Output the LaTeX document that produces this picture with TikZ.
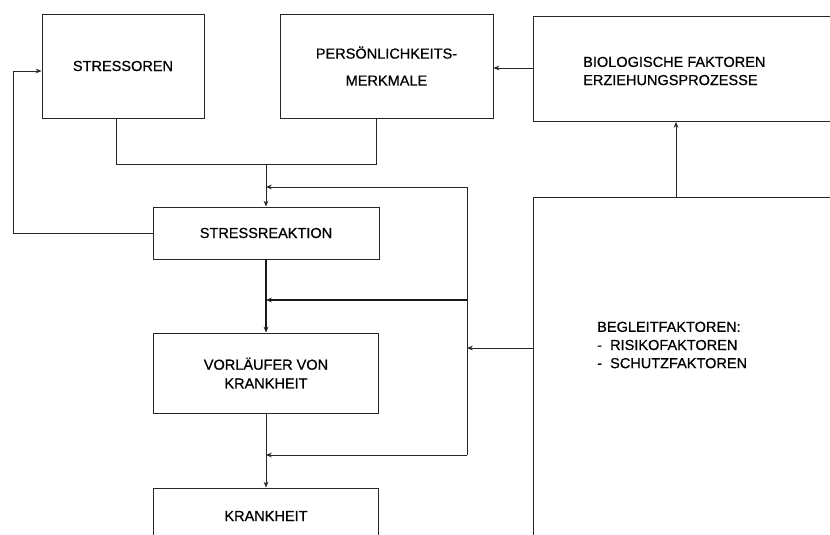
\documentclass[tikz,border=0pt]{standalone}
\usepackage{fontspec}
\setmainfont[FakeBold=0.7]{Liberation Sans}
\usetikzlibrary{arrows.meta, positioning}

\begin{document}
\begin{tikzpicture}[
  x=0.03cm, y=-0.03cm,
  >={Stealth[length=5pt, width=4pt]},
  box/.style={draw=black!85, line width=0.8pt, inner sep=0pt, align=center,
    font=\fontsize{12.4}{16}\selectfont},
  txt/.style={inner sep=0pt, align=left, font=\fontsize{12.4}{15.5}\selectfont},
  wire/.style={draw=black!85, line width=0.7pt},
  heavy/.style={draw=black!90, line width=1.6pt}
]
\useasboundingbox (0,0) rectangle (830,535);
\clip (0,0) rectangle (830,535);

% Boxes, left column
\node[box, minimum width=4.86cm, minimum height=3.12cm] (stressoren) at (123,66) {STRESSOREN};
\node[box, minimum width=6.39cm, minimum height=3.12cm] (pers) at (386.5,66) {PERSÖNLICHKEITS-\\[7pt]MERKMALE};
\node[box, minimum width=6.78cm, minimum height=1.56cm] (reaktion) at (266,233) {STRESSREAKTION};
\node[box, minimum width=6.75cm, minimum height=2.4cm] (vorl) at (266,373) {VORLÄUFER VON\\KRANKHEIT};
\node[box, minimum width=6.75cm, minimum height=1.68cm] (krank) at (266,516) {KRANKHEIT};

% Boxes, right column (cut by the page edge)
\node[box, anchor=north west, minimum width=10.5cm, minimum height=3.15cm] (bio) at (533,16) {};
\node[txt, anchor=west] (bio-text) at (583,71) {BIOLOGISCHE FAKTOREN\\ERZIEHUNGSPROZESSE};
\node[box, anchor=north west, minimum width=10.5cm, minimum height=12cm] (begleit) at (533,197) {};
\node[txt, anchor=west] (begleit-text) at (597,345) {BEGLEITFAKTOREN:\\- \ RISIKOFAKTOREN\\- \ SCHUTZFAKTOREN};

% Junction points
\coordinate (merge) at (266,164);
\coordinate (loop) at (13,0);
\coordinate (up) at (676,0);
\coordinate (bustop) at (467,187);
\coordinate (busin) at (467,348);
\coordinate (busmid) at (467,300);
\coordinate (busbot) at (467,455);

% Inputs to the stress reaction
\draw[wire] ([xshift=-0.21cm]stressoren.south) |- (merge);
\draw[wire] ([xshift=-0.3cm]pers.south) |- (merge);
\draw[wire, ->] (merge) -- (reaktion.north);

% Feedback loop
\draw[wire, ->] (reaktion.west) -- (reaktion.west -| loop) |- ([yshift=-0.15cm]stressoren.west);

% Right column links
\draw[wire, ->] (bio.west |- 0,68) -- (pers.east |- 0,68);
\draw[wire, ->] (begleit.north -| up) -- (bio.south -| up);
\draw[wire, ->] (begleit.west |- busin) -- (busin);

% Bus from the accompanying factors
\draw[wire, ->] (busbot) -- (bustop) -- (bustop -| merge);
\draw[heavy, ->] (busmid) -- (busmid -| reaktion.south);
\draw[wire, ->] (busbot) -- (busbot -| vorl.south);

% Main chain
\draw[heavy, ->] (reaktion.south) -- (vorl.north);
\draw[wire, ->] (vorl.south) -- (krank.north);

\end{tikzpicture}
\end{document}
